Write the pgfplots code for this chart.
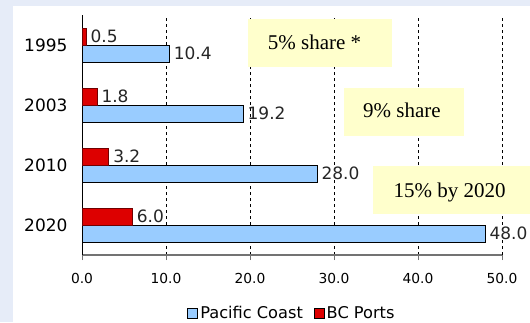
\documentclass[border=0pt]{standalone}
\usepackage{pgfplots}
\pgfplotsset{compat=1.18}
\usepackage{fontspec}
\setmainfont{DejaVu Sans}
\newfontfamily\tnr{Liberation Serif}
\definecolor{bgblue}{HTML}{E6ECF8}
\definecolor{pcblue}{HTML}{99CCFF}
\definecolor{bcred}{HTML}{DD0000}
\definecolor{bcedge}{HTML}{700000}
\definecolor{boxy}{HTML}{FFFFCC}
\begin{document}
\begin{tikzpicture}
\useasboundingbox (0pt,0pt) rectangle (530pt,322pt);
\fill[bgblue] (0pt,0pt) rectangle (530pt,322pt);
\fill[white] (13pt,0pt) rectangle (530pt,316pt);
\begin{axis}[
  at={(82pt,67pt)}, anchor=south west,
  scale only axis, width=420pt, height=240pt,
  xbar, bar width=17pt,
  xmin=0, xmax=50, ymin=-0.5, ymax=3.5,
  xtick={0,10,20,30,40,50},
  ytick={0,1,2,3}, yticklabels={2020,2010,2003,1995},
  axis x line*=bottom, axis y line*=left,
  x axis line style={gray!90!black, line width=1.2pt},
  y axis line style={black, line width=1pt},
  tick align=outside, major tick length=5pt,
  xtick style={gray!90!black, line width=1pt},
  ytick style={draw=none},
  xmajorgrids,
  major grid style={black, dash pattern=on 3pt off 3pt, line width=0.8pt},
  xticklabel style={font=\fontsize{13.8}{16}\selectfont, yshift=-10pt,
    /pgf/number format/.cd, fixed, fixed zerofill, precision=1, assume math mode=true},
  yticklabel style={font=\fontsize{17}{20}\selectfont, xshift=-6pt},
  /pgf/number format/assume math mode=true,
  point meta=x,
  nodes near coords={\pgfmathprintnumber[fixed,fixed zerofill,precision=1,assume math mode=true]{\pgfplotspointmeta}},
  nodes near coords style={font=\fontsize{17}{20}\selectfont, text=black!85, anchor=west, inner sep=4pt},
  legend style={at={(0.5,-0.2417)}, anchor=center, legend columns=-1, draw=none, fill=none,
    font=\fontsize{16.2}{19}\selectfont,
    /tikz/every even column/.append style={column sep=9pt}},
  clip=false,
]
\addplot[fill=pcblue, draw=black, line width=0.8pt, bar shift=-8.5pt,
  legend image code/.code={\draw[fill=pcblue, draw=black, line width=0.8pt] (0pt,-5pt) rectangle (10pt,5pt);}]
  coordinates {(10.4,3) (19.2,2) (28.0,1) (48.0,0)};
\addlegendentry{Pacific Coast}
\addplot[fill=bcred, draw=bcedge, line width=0.8pt, bar shift=8.5pt,
  legend image code/.code={\draw[fill=bcred, draw=black, line width=0.8pt] (0pt,-5pt) rectangle (10pt,5pt);}]
  coordinates {(0.5,3) (1.8,2) (3.2,1) (6.0,0)};
\addlegendentry{BC Ports}
\end{axis}
\fill[boxy] (248pt,255pt) rectangle (392pt,303pt);
\node[anchor=base, inner sep=0pt, font=\tnr\fontsize{21}{24}\selectfont] at (314.5pt,272.7pt) {5\% share *};
\fill[boxy] (344pt,186pt) rectangle (464pt,234pt);
\node[anchor=base, inner sep=0pt, font=\tnr\fontsize{21}{24}\selectfont] at (402pt,204.7pt) {9\% share};
\fill[boxy] (373pt,108pt) rectangle (535pt,156pt);
\node[anchor=base, inner sep=0pt, font=\tnr\fontsize{21}{24}\selectfont] at (449.5pt,125pt) {15\% by 2020};
\end{tikzpicture}
\end{document}
